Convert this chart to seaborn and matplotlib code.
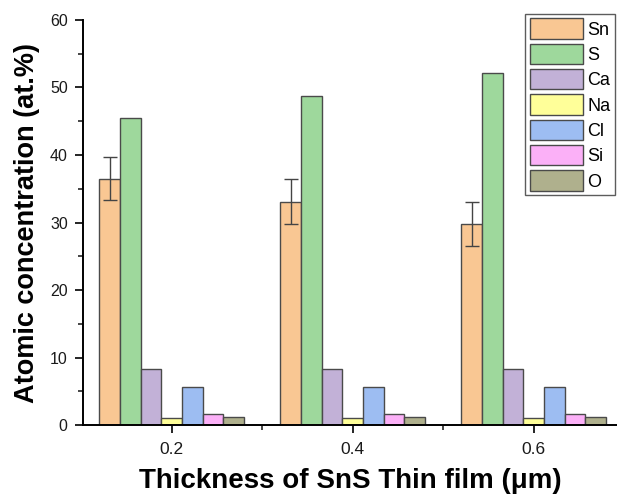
import numpy as np
import pandas as pd
import matplotlib
matplotlib.use("Agg")
import matplotlib.pyplot as plt
from matplotlib.ticker import MultipleLocator, FixedLocator
import seaborn as sns

thickness = ["0.2", "0.4", "0.6"]
elements  = ["Sn", "S", "Ca", "Na", "Cl", "Si", "O"]
sn_vals   = [36.5, 33.1, 29.8]
s_vals    = [45.5, 48.7, 52.1]
ca_vals   = [8.3, 8.3, 8.3]
na_vals   = [1.0, 1.0, 1.0]
cl_vals   = [5.6, 5.6, 5.6]
si_vals   = [1.7, 1.7, 1.7]
o_vals    = [1.2, 1.2, 1.2]
sn_err    = [3.2, 3.3, 3.3]

colors = ["#F9C793", "#9ED89C", "#C2B1D7", "#FFFF99", "#9DBDF2", "#FBB0F7", "#AFB08D"]

series = [sn_vals, s_vals, ca_vals, na_vals, cl_vals, si_vals, o_vals]
rows = []
for el, vals in zip(elements, series):
    for t, v in zip(thickness, vals):
        rows.append({"thickness": t, "element": el, "value": v})
df = pd.DataFrame(rows)

sns.set_style("ticks")
plt.rcParams["font.family"] = ["Liberation Sans", "DejaVu Sans"]
plt.rcParams["text.color"] = "black"
plt.rcParams["axes.labelcolor"] = "black"

fig = plt.figure(figsize=(6.17, 4.95), dpi=100)
ax = fig.add_axes([0.1345, 0.1414, 0.8655, 0.8182])

sns.barplot(data=df, x="thickness", y="value", hue="element", order=thickness,
            hue_order=elements, palette=colors, saturation=1, width=0.8,
            errorbar=None, edgecolor="#4a4a4a", linewidth=1.0, ax=ax)

# error bars on the Sn bars only
sn_bars = ax.containers[0]
xs = [b.get_x() + b.get_width() / 2 for b in sn_bars]
ax.errorbar(xs, sn_vals, yerr=sn_err, fmt="none", ecolor="#444444",
            elinewidth=1.0, capsize=5, capthick=1.0)

ax.set_ylim(0, 60)
ax.set_xlim(-0.49, 2.46)
ax.yaxis.set_major_locator(MultipleLocator(10))
ax.yaxis.set_minor_locator(MultipleLocator(5))
ax.xaxis.set_minor_locator(FixedLocator([0.5, 1.5]))
ax.tick_params(axis="both", which="major", direction="out", length=6, width=1.2,
               labelsize=11.5, colors="black", labelcolor="#1a1a1a", pad=5)
ax.tick_params(axis="both", which="minor", direction="out", length=3.5, width=1.2)
ax.tick_params(axis="x", labelsize=12.5, pad=6)

sns.despine(ax=ax, top=True, right=True)
for sp in ["left", "bottom"]:
    ax.spines[sp].set_linewidth(1.4)
    ax.spines[sp].set_color("black")

ax.set_ylabel("Atomic concentration (at.%)", fontsize=19.5, fontweight="bold", labelpad=7)
ax.set_xlabel("Thickness of SnS Thin film (\u03bcm)", fontsize=20, fontweight="bold", labelpad=8)

leg = ax.legend(loc="upper right", bbox_to_anchor=(0.9965, 1.015), fontsize=13,
                handlelength=2.95, handleheight=1.35, labelspacing=0.28,
                handletextpad=0.25, borderpad=0.25, borderaxespad=0.0,
                frameon=True, fancybox=False)
leg.get_frame().set_edgecolor("#333333")
leg.get_frame().set_linewidth(1.0)

fig.savefig("out.png", dpi=100)
